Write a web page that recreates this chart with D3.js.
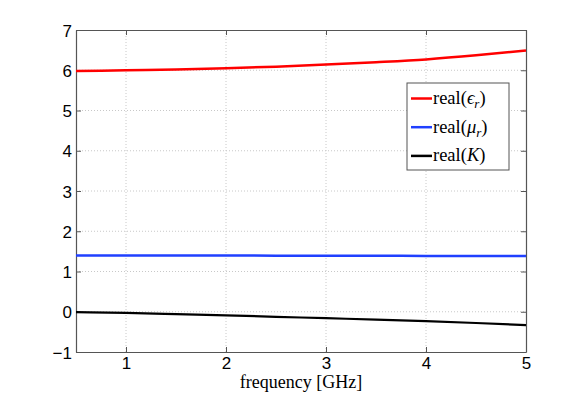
<!DOCTYPE html>
<html lang="en">
<head>
<meta charset="UTF-8">
<title>real parts vs frequency</title>
<script src="https://d3js.org/d3.v7.min.js"></script>
<style>
  body { margin: 0; background: #fff; }
  .tick text { font-family: "Liberation Sans", Arial, sans-serif; font-size: 17px; fill: #000; }
  .grid line { stroke: #c8c8c8; stroke-dasharray: 1,2; }
</style>
</head>
<body>
<script>
// data
var freq    = [0.5, 1, 1.5, 2, 2.5, 3, 3.5, 4, 4.5, 5];
var epsReal = [5.98, 6.0, 6.02, 6.05, 6.09, 6.14, 6.2, 6.27, 6.37, 6.49];
var muReal  = [1.40, 1.40, 1.398, 1.396, 1.394, 1.392, 1.39, 1.388, 1.386, 1.384];
var kReal   = [-0.01, -0.03, -0.06, -0.09, -0.125, -0.16, -0.195, -0.235, -0.28, -0.33];
var xTicks  = [1, 2, 3, 4, 5];
var yTicks  = [-1, 0, 1, 2, 3, 4, 5, 6, 7];
var seriesNames = ["eps", "mu", "K"];
var seriesColors = ["#ff0000", "#2040ff", "#000000"];

var W = 581, H = 396;
var margin = {top: 30, right: 55, bottom: 44, left: 76};
var width = W - margin.left - margin.right,
    height = H - margin.top - margin.bottom;

var svg = d3.select("body").append("svg")
  .attr("width", W).attr("height", H);

var g = svg.append("g")
  .attr("transform", "translate(" + margin.left + "," + margin.top + ")");

var x = d3.scaleLinear().domain([0.5, 5]).range([0, width]);
var y = d3.scaleLinear().domain([-1, 7]).range([height, 0]);

// dotted grid
g.append("g").attr("class", "grid")
  .selectAll("line").data(xTicks.filter(function(t){ return t < 5; }))
  .enter().append("line")
  .attr("x1", function(d){ return x(d); }).attr("x2", function(d){ return x(d); })
  .attr("y1", 0).attr("y2", height);
g.append("g").attr("class", "grid")
  .selectAll("line").data(yTicks.filter(function(t){ return t > -1 && t < 7; }))
  .enter().append("line")
  .attr("y1", function(d){ return y(d); }).attr("y2", function(d){ return y(d); })
  .attr("x1", 0).attr("x2", width);

// axes, ticks pointing inwards like matlab
var fmt = function(d){ return d < 0 ? "\u2212" + Math.abs(d) : d; };
var xAxis = g.append("g").attr("transform", "translate(0," + height + ")")
  .call(d3.axisBottom(x).tickValues(xTicks).tickSizeInner(-5).tickSizeOuter(0).tickFormat(fmt));
var xTop = g.append("g")
  .call(d3.axisTop(x).tickValues(xTicks).tickSizeInner(-5).tickSizeOuter(0).tickFormat(""));
var yAxis = g.append("g")
  .call(d3.axisLeft(y).tickValues(yTicks).tickSizeInner(-5).tickSizeOuter(0).tickPadding(4).tickFormat(fmt));
var yRight = g.append("g").attr("transform", "translate(" + width + ",0)")
  .call(d3.axisRight(y).tickValues(yTicks).tickSizeInner(-5).tickSizeOuter(0).tickFormat(""));
[xAxis, xTop, yAxis, yRight].forEach(function(a){
  a.selectAll("path, line").attr("stroke", "#555");
  a.select(".domain").attr("stroke-width", 1.2);
});
xAxis.selectAll(".tick text").attr("y", 5).attr("dy", "0.71em");
yAxis.selectAll(".tick text").attr("dy", "0.36em");

// curves
var line = d3.line().curve(d3.curveMonotoneX)
  .x(function(d){ return x(d[0]); })
  .y(function(d){ return y(d[1]); });
[epsReal, muReal, kReal].forEach(function(vals, i){
  g.append("path")
    .datum(freq.map(function(f, j){ return [f, vals[j]]; }))
    .attr("fill", "none")
    .attr("stroke", seriesColors[i])
    .attr("stroke-width", i == 2 ? 2.2 : 2.5)
    .attr("d", line);
});

// x label
svg.append("text")
  .attr("x", margin.left + width / 2).attr("y", 388)
  .attr("text-anchor", "middle")
  .style("font-family", "'Liberation Serif', 'DejaVu Serif', serif")
  .style("font-size", "18px")
  .text("frequency [GHz]");

// legend
var leg = svg.append("g").attr("transform", "translate(407,83)");
leg.append("rect").attr("width", 102).attr("height", 87)
  .attr("fill", "#fff").attr("stroke", "#555").attr("stroke-width", 1);
var sym = ["\u03F5", "\u03BC", "K"];
seriesNames.forEach(function(n, i){
  var yy = 15.5 + i * 28.7;
  leg.append("line").attr("x1", 4).attr("x2", 25).attr("y1", yy).attr("y2", yy)
    .attr("stroke", seriesColors[i]).attr("stroke-width", 2.5);
  var t = leg.append("text").attr("x", 26).attr("y", yy + 5.5)
    .style("font-family", "'Liberation Serif', 'DejaVu Serif', serif")
    .style("font-size", "18.5px");
  t.append("tspan").text("real(");
  t.append("tspan").style("font-style", "italic").text(sym[i]);
  if (i < 2) t.append("tspan").style("font-style", "italic").style("font-size", "13px").attr("dy", 4).text("r");
  t.append("tspan").attr("dy", i < 2 ? -4 : 0).text(")");
});
</script>
</body>
</html>
